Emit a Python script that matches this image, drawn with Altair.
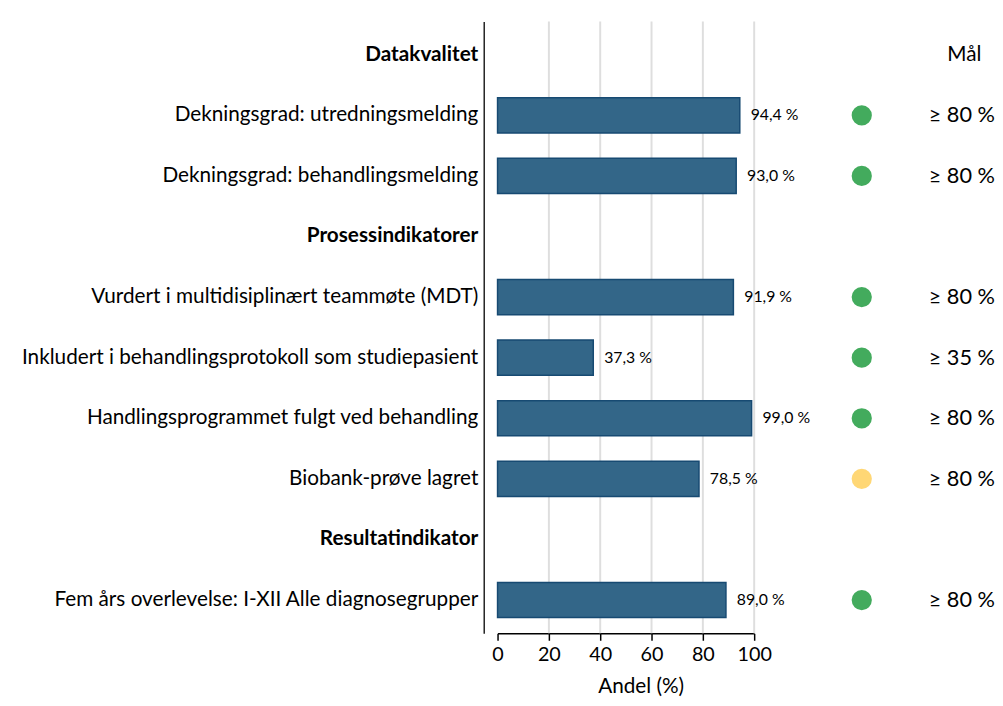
import altair as alt
import pandas as pd

labels = [
    "Datakvalitet",
    "Dekningsgrad: utredningsmelding",
    "Dekningsgrad: behandlingsmelding",
    "Prosessindikatorer",
    "Vurdert i multidisiplinært teammøte (MDT)",
    "Inkludert i behandlingsprotokoll som studiepasient",
    "Handlingsprogrammet fulgt ved behandling",
    "Biobank-prøve lagret",
    "Resultatindikator",
    "Fem års overlevelse: I-XII Alle diagnosegrupper",
]
headers = ["Datakvalitet", "Prosessindikatorer", "Resultatindikator"]
values = [None, 94.4, 93.0, None, 91.9, 37.3, 99.0, 78.5, None, 89.0]
status = [None, "ok", "ok", None, "ok", "ok", "ok", "low", None, "ok"]
targets = [None, "≥ 80 %", "≥ 80 %", None, "≥ 80 %", "≥ 35 %", "≥ 80 %", "≥ 80 %", None, "≥ 80 %"]
grid_values = [20, 40, 60, 80, 100]
tick_values = [0, 20, 40, 60, 80, 100]

df = pd.DataFrame({"label": labels, "value": values, "status": status, "target": targets})
df["text"] = df["value"].map(lambda v: "" if pd.isna(v) else f"{v:.1f}".replace(".", ",") + " %")
grid_df = pd.DataFrame({"g": grid_values})
head_df = pd.DataFrame({"label": [labels[0]], "t": ["Mål"]})

FONT = "Lato"
bold_expr = "indexof(" + str(headers) + ", datum.value) >= 0 ? 'bold' : 'normal'"

yscale = alt.Scale(domain=labels, paddingInner=0.42, paddingOuter=0.26)
xscale = alt.Scale(domain=[0, 100], nice=False)

y_enc = alt.Y("label:N", sort=labels, scale=yscale, title=None,
              axis=alt.Axis(ticks=False, domain=True, domainColor="#222222", domainWidth=1.5,
                            offset=14, labelFontSize=21, labelFont=FONT, labelColor="#000000",
                            labelPadding=6, labelLimit=700,
                            labelFontWeight=alt.ExprRef(bold_expr)))

grid = alt.Chart(grid_df).mark_rule(color="#dedede", strokeWidth=2).encode(
    x=alt.X("g:Q", scale=xscale,
            axis=alt.Axis(values=tick_values, grid=False, title="Andel (%)", titleFont=FONT,
                          titleFontSize=21, titleFontWeight="normal", titlePadding=12,
                          titleX=145, titleAlign="center",
                          labelFont=FONT, labelFontSize=20, labelColor="#000000", labelFlush=False,
                          tickColor="#000000", tickSize=7, tickWidth=1.5,
                          domainColor="#000000", domainWidth=1.5, labelPadding=4))
)

base = alt.Chart(df)

bars = base.transform_filter("isValid(datum.value)").mark_bar(
    color="#336688", stroke="#174a72", strokeWidth=1.5
).encode(x=alt.X("value:Q", scale=xscale), y=y_enc)

vlabels = base.transform_filter("isValid(datum.value)").mark_text(
    align="left", baseline="middle", dx=11, fontSize=16, font=FONT, color="#000000"
).encode(x=alt.X("value:Q", scale=xscale), y=alt.Y("label:N", sort=labels, scale=yscale), text="text:N")

dots = base.transform_filter("isValid(datum.status)").mark_circle(size=420, opacity=1).encode(
    x=alt.value(369),
    y=alt.Y("label:N", sort=labels, scale=yscale),
    color=alt.Color("status:N", scale=alt.Scale(domain=["ok", "low"], range=["#43ab5d", "#ffd775"]), legend=None),
)

tgt = base.transform_filter("isValid(datum.target)").mark_text(
    align="right", baseline="middle", fontSize=22, font=FONT, color="#000000"
).encode(x=alt.value(504), y=alt.Y("label:N", sort=labels, scale=yscale), text="target:N")

maal = alt.Chart(head_df).mark_text(
    align="center", baseline="middle", fontSize=21, font=FONT, color="#000000"
).encode(x=alt.value(473), y=alt.Y("label:N", sort=labels, scale=yscale), text="t:N")

chart = alt.layer(grid, bars, vlabels, dots, tgt, maal).properties(
    width=260, height=620, padding={"left": 13, "top": 8, "right": 0, "bottom": 5}
).configure_view(stroke=None).configure_axis(grid=False)

chart.save("out.html", embed_options={"renderer": "svg", "actions": False})
